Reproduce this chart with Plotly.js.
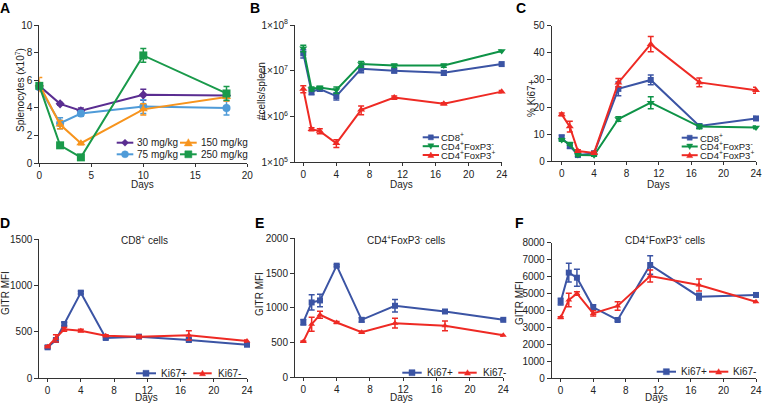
<!DOCTYPE html>
<html>
<head>
<meta charset="utf-8">
<script src="https://cdn.plot.ly/plotly-3.0.1.min.js"></script>
<style>html,body{margin:0;padding:0;background:#fff}#chart{width:764px;height:403px}</style>
</head>
<body>
<div id="chart"></div>
<script>
// ---------- Data ----------
// Panel A: splenocytes (x10^7) by dose
const daysA = [0, 2, 4, 10, 18];
const a30 = [5.6, 4.3, 3.8, 4.95, 4.9];
const a30Err = [0.1, 0.1, 0.2, 0.4, 0.1];
const a75 = [5.5, 2.9, 3.6, 4.1, 4.0];
const a75Err = [0.2, 0.4, 0.2, 0.5, 0.5];
const a150 = [5.7, 2.8, 1.45, 3.9, 4.8];
const a150Err = [0.5, 0.3, 0.1, 0.4, 0.3];
const a250 = [5.6, 1.3, 0.43, 7.8, 5.05];
const a250Err = [0.2, 0.1, 0.1, 0.5, 0.5];
const doseLabels = ['30 mg/kg', '75 mg/kg', '150 mg/kg', '250 mg/kg'];

// Shared day points for B-F
const days = [0, 1, 2, 4, 7, 11, 17, 24];

// Panel B: #cells/spleen
const bCD8 = [2.4e7, 3.5e6, 4.0e6, 2.8e6, 1.1e7, 1.0e7, 9.0e6, 1.4e7];
const bCD8Err = [5e6, 5e5, 4e5, 5e5, 2e6, 1e6, 1e6, 1e6];
const bFoxN = [3.1e7, 4.0e6, 4.3e6, 3.8e6, 1.4e7, 1.3e7, 1.3e7, 2.7e7];
const bFoxNErr = [5e6, 4e5, 3e5, 6e5, 2e6, 1e6, 1e6, 1e6];
const bFoxP = [4.0e6, 5.3e5, 4.8e5, 2.6e5, 1.4e6, 2.6e6, 1.9e6, 3.5e6];
const bFoxPErr = [7e5, 4e4, 6e4, 5e4, 3e5, 2e5, 1e5, 2e5];

// Panel C: % Ki67+
const cCD8 = [8.7, 5.7, 2.3, 2.9, 26.7, 30.0, 13.0, 15.8];
const cCD8Err = [1, 1, 0.5, 0.8, 2.5, 1.8, 0.8, 0.7];
const cFoxN = [7.9, 6.4, 2.3, 2.2, 15.6, 21.6, 12.8, 12.5];
const cFoxNErr = [0.5, 0.5, 0.3, 0.3, 0.8, 2.2, 0.8, 0.5];
const cFoxP = [17.3, 12.8, 3.8, 3.1, 29.0, 43.2, 29.1, 26.2];
const cFoxPErr = [0.5, 2.0, 0.5, 0.5, 1.5, 2.8, 1.6, 1.1];
const subsetLabels = ['CD8<sup>+</sup>', 'CD4<sup>+</sup>FoxP3<sup>-</sup>', 'CD4<sup>+</sup>FoxP3<sup>+</sup>'];

// Panels D-F: GITR MFI
const dPos = [332, 411, 584, 923, 433, 447, 411, 360];
const dPosErr = [15, 15, 20, 15, 10, 15, 15, 10];
const dNeg = [339, 429, 526, 512, 458, 447, 461, 400];
const dNegErr = [10, 40, 20, 15, 10, 15, 50, 10];
const ePos = [793, 1077, 1106, 1606, 827, 1029, 947, 827];
const ePosErr = [40, 110, 90, 15, 30, 90, 20, 15];
const eNeg = [514, 764, 899, 788, 649, 779, 740, 606];
const eNegErr = [10, 100, 50, 15, 15, 70, 70, 10];
const fPos = [4510, 6230, 5930, 4180, 3430, 6680, 4810, 4910];
const fPosErr = [200, 550, 500, 150, 80, 550, 200, 80];
const fNeg = [3570, 4610, 5000, 3820, 4260, 6030, 5500, 4510];
const fNegErr = [50, 400, 100, 150, 250, 350, 350, 50];
const kiLabels = ['Ki67+', 'Ki67-'];

// ---------- Styling ----------
const W = 764, H = 403;
const FONT = 'Liberation Sans, Arial, Helvetica, sans-serif';
const C = {
  purple: '#5a2d91', lblue: '#4f9bd8', orange: '#f7941d', greenA: '#1a9a4b',
  blue: '#3b54a4', green: '#0e9347', red: '#ee2a24', axis: '#333333'
};
const X = p => p / W;
const Y = p => 1 - p / H;

function tr(x, y, err, color, symbol, size, xa, ya, name) {
  return {
    type: 'scatter', mode: 'lines+markers', x: x, y: y, name: name,
    xaxis: xa, yaxis: ya, cliponaxis: false, showlegend: false,
    line: {color: color, width: 2},
    marker: {color: color, symbol: symbol, size: size},
    error_y: {type: 'data', array: err, visible: true, color: color, thickness: 1.5, width: 3}
  };
}

const data = [
  tr(daysA, a30, a30Err, C.purple, 'diamond', 7, 'x', 'y', doseLabels[0]),
  tr(daysA, a75, a75Err, C.lblue, 'circle', 8, 'x', 'y', doseLabels[1]),
  tr(daysA, a150, a150Err, C.orange, 'triangle-up', 8, 'x', 'y', doseLabels[2]),
  tr(daysA, a250, a250Err, C.greenA, 'square', 8, 'x', 'y', doseLabels[3]),
  tr(days, bCD8, bCD8Err, C.blue, 'square', 6, 'x2', 'y2', subsetLabels[0]),
  tr(days, bFoxN, bFoxNErr, C.green, 'triangle-down', 7, 'x2', 'y2', subsetLabels[1]),
  tr(days, bFoxP, bFoxPErr, C.red, 'triangle-up', 7, 'x2', 'y2', subsetLabels[2]),
  tr(days, cCD8, cCD8Err, C.blue, 'square', 6, 'x3', 'y3', subsetLabels[0]),
  tr(days, cFoxN, cFoxNErr, C.green, 'triangle-down', 7, 'x3', 'y3', subsetLabels[1]),
  tr(days, cFoxP, cFoxPErr, C.red, 'triangle-up', 7, 'x3', 'y3', subsetLabels[2]),
  tr(days, dPos, dPosErr, C.blue, 'square', 6, 'x4', 'y4', kiLabels[0]),
  tr(days, dNeg, dNegErr, C.red, 'triangle-up', 6, 'x4', 'y4', kiLabels[1]),
  tr(days, ePos, ePosErr, C.blue, 'square', 6, 'x5', 'y5', kiLabels[0]),
  tr(days, eNeg, eNegErr, C.red, 'triangle-up', 6, 'x5', 'y5', kiLabels[1]),
  tr(days, fPos, fPosErr, C.blue, 'square', 6, 'x6', 'y6', kiLabels[0]),
  tr(days, fNeg, fNegErr, C.red, 'triangle-up', 6, 'x6', 'y6', kiLabels[1])
];

function ax(domPx, range, extra) {
  return Object.assign({
    domain: [X(domPx[0]), X(domPx[1])], range: range,
    showline: true, linecolor: C.axis, linewidth: 1, ticks: 'outside', ticklen: 3,
    tickwidth: 1, tickcolor: C.axis, showgrid: false, zeroline: false,
    tickfont: {family: FONT, size: 10, color: '#222'}, fixedrange: true
  }, extra || {});
}
function ay(domPx, range, extra) {
  return Object.assign({
    domain: [Y(domPx[1]), Y(domPx[0])], range: range,
    showline: true, linecolor: C.axis, linewidth: 1, ticks: 'outside', ticklen: 4,
    tickwidth: 1, tickcolor: C.axis, showgrid: false, zeroline: false,
    tickfont: {family: FONT, size: 10, color: '#222'}, fixedrange: true
  }, extra || {});
}

const layout = {
  width: W, height: H, margin: {l: 0, r: 0, t: 0, b: 0, pad: 0},
  paper_bgcolor: '#fff', plot_bgcolor: 'rgba(0,0,0,0)', showlegend: false,
  font: {family: FONT, size: 10, color: '#222'},
  xaxis: ax([39.3, 247.3], [0, 20], {anchor: 'y', tickvals: [0, 5, 10, 15, 20]}),
  yaxis: ay([25, 163.3], [0, 10], {anchor: 'x', tickvals: [0, 2, 4, 6, 8, 10]}),
  xaxis2: ax([295, 501.7], [-1, 24], {anchor: 'y2', tickvals: [0, 4, 8, 12, 16, 20, 24]}),
  yaxis2: ay([25, 162.3], [5, 8], {anchor: 'x2', type: 'log', tickvals: [1e5, 1e6, 1e7, 1e8],
    ticktext: ['1×10<sup>5</sup>', '1×10<sup>6</sup>', '1×10<sup>7</sup>', '1×10<sup>8</sup>']}),
  xaxis3: ax([551.7, 756], [-1.235, 24], {anchor: 'y3', tickvals: [0, 4, 8, 12, 16, 20, 24]}),
  yaxis3: ay([25.7, 161.3], [0, 50], {anchor: 'x3', tickvals: [0, 10, 20, 30, 40, 50]}),
  xaxis4: ax([39.3, 247], [-1, 24], {anchor: 'y4', tickvals: [0, 4, 8, 12, 16, 20, 24]}),
  yaxis4: ay([239.3, 378], [0, 1500], {anchor: 'x4', tickvals: [0, 500, 1000, 1500]}),
  xaxis5: ax([295, 503.3], [-1, 24], {anchor: 'y5', tickvals: [0, 4, 8, 12, 16, 20, 24]}),
  yaxis5: ay([238.3, 377.3], [0, 2000], {anchor: 'x5', tickvals: [0, 500, 1000, 1500, 2000]}),
  xaxis6: ax([551.7, 756], [-1.1, 24], {anchor: 'y6', tickvals: [0, 4, 8, 12, 16, 20, 24]}),
  yaxis6: ay([242.7, 378], [0, 8000], {anchor: 'x6', tickvals: [0, 1000, 2000, 3000, 4000, 5000, 6000, 7000, 8000]}),
  annotations: [], shapes: []
};

function txt(text, x, y, opts) {
  layout.annotations.push(Object.assign({
    text: text, x: X(x), y: Y(y), xref: 'paper', yref: 'paper', showarrow: false,
    xanchor: 'center', yanchor: 'middle', font: {family: FONT, size: 10, color: '#222'}
  }, opts || {}));
}

// Panel letters
[['A', 5, 7.5], ['B', 254.5, 7.5], ['C', 520.5, 7.5], ['D', 5, 222.5], ['E', 259.5, 222.5], ['F', 519.5, 222.5]]
  .forEach(l => txt('<b>' + l[0] + '</b>', l[1], l[2], {font: {family: FONT, size: 14, color: '#000'}}));

// Axis titles
txt('Days', 142.5, 184); txt('Days', 401, 184); txt('Days', 658, 184);
txt('Days', 146, 397.3); txt('Days', 401.5, 397.3); txt('Days', 656.7, 397.3);
txt('Splenocytes (x10<sup>7</sup>)', 20, 90, {textangle: -90});
txt('#cells/spleen', 261, 91, {textangle: -90});
txt('% Ki67+', 532, 98, {textangle: -90});
txt('GITR MFI', 5, 293, {textangle: -90});
txt('GITR MFI', 259, 294, {textangle: -90});
txt('GITR MFI', 519, 303, {textangle: -90});

// Panel subtitles
txt('CD8<sup>+</sup> cells', 144, 240);
txt('CD4<sup>+</sup>FoxP3<sup>-</sup> cells', 406, 240);
txt('CD4<sup>+</sup>FoxP3<sup>+</sup> cells', 665, 240);

// Custom legend keys (line sample + marker + label)
function markerShape(cx, cy, sym, color, s) {
  const h = s / 2;
  const P = pts => 'M' + pts.map(p => X(p[0]) + ',' + Y(p[1])).join(' L') + ' Z';
  const base = {xref: 'paper', yref: 'paper', fillcolor: color, line: {color: color, width: 0.5}};
  if (sym === 'square') return Object.assign({type: 'rect', x0: X(cx - h), x1: X(cx + h), y0: Y(cy + h), y1: Y(cy - h)}, base);
  if (sym === 'circle') return Object.assign({type: 'circle', x0: X(cx - h), x1: X(cx + h), y0: Y(cy + h), y1: Y(cy - h)}, base);
  if (sym === 'diamond') return Object.assign({type: 'path', path: P([[cx, cy - h], [cx + h, cy], [cx, cy + h], [cx - h, cy]])}, base);
  if (sym === 'triangle-up') return Object.assign({type: 'path', path: P([[cx, cy - h], [cx + h, cy + h * 0.8], [cx - h, cy + h * 0.8]])}, base);
  if (sym === 'triangle-down') return Object.assign({type: 'path', path: P([[cx, cy + h], [cx + h, cy - h * 0.8], [cx - h, cy - h * 0.8]])}, base);
}
function key(x1, x2, y, color, sym, size, label, tx, fs) {
  layout.shapes.push({type: 'line', xref: 'paper', yref: 'paper', x0: X(x1), x1: X(x2), y0: Y(y), y1: Y(y), line: {color: color, width: 2}});
  layout.shapes.push(markerShape((x1 + x2) / 2, y, sym, color, size));
  txt(label, tx, y, {xanchor: 'left', font: {family: FONT, size: fs || 10, color: '#222'}});
}
// A
key(116.7, 133.3, 142.7, C.purple, 'diamond', 7, doseLabels[0], 135.2);
key(180, 196.7, 142.7, C.orange, 'triangle-up', 8, doseLabels[2], 198.8);
key(116.7, 133.3, 154.3, C.lblue, 'circle', 7, doseLabels[1], 135.2);
key(180, 196.7, 154.3, C.greenA, 'square', 7, doseLabels[3], 198.8);
// B
key(422.7, 439, 137.3, C.blue, 'square', 5, subsetLabels[0], 438.8, 9.5);
key(422.7, 439, 146.2, C.green, 'triangle-down', 6, subsetLabels[1], 438.8, 9.5);
key(422.7, 439, 155, C.red, 'triangle-up', 6, subsetLabels[2], 438.8, 9.5);
// C
key(681.7, 697.7, 137.7, C.blue, 'square', 5, subsetLabels[0], 697.5, 9.5);
key(681.7, 697.7, 146.5, C.green, 'triangle-down', 6, subsetLabels[1], 697.5, 9.5);
key(681.7, 697.7, 155.2, C.red, 'triangle-up', 6, subsetLabels[2], 697.5, 9.5);
// D
key(136, 156, 373.3, C.blue, 'square', 6, kiLabels[0], 158.8);
key(193.3, 211.7, 373.3, C.red, 'triangle-up', 6, kiLabels[1], 215.5);
// E
key(402.3, 421.7, 372.7, C.blue, 'square', 6, kiLabels[0], 424.5);
key(458.3, 476.7, 372.7, C.red, 'triangle-up', 6, kiLabels[1], 481.2);
// F
key(656.7, 676, 371.7, C.blue, 'square', 6, kiLabels[0], 678.5);
key(709, 728.3, 371.7, C.red, 'triangle-up', 6, kiLabels[1], 731.2);

Plotly.newPlot('chart', data, layout, {staticPlot: true, displayModeBar: false});
</script>
</body>
</html>
